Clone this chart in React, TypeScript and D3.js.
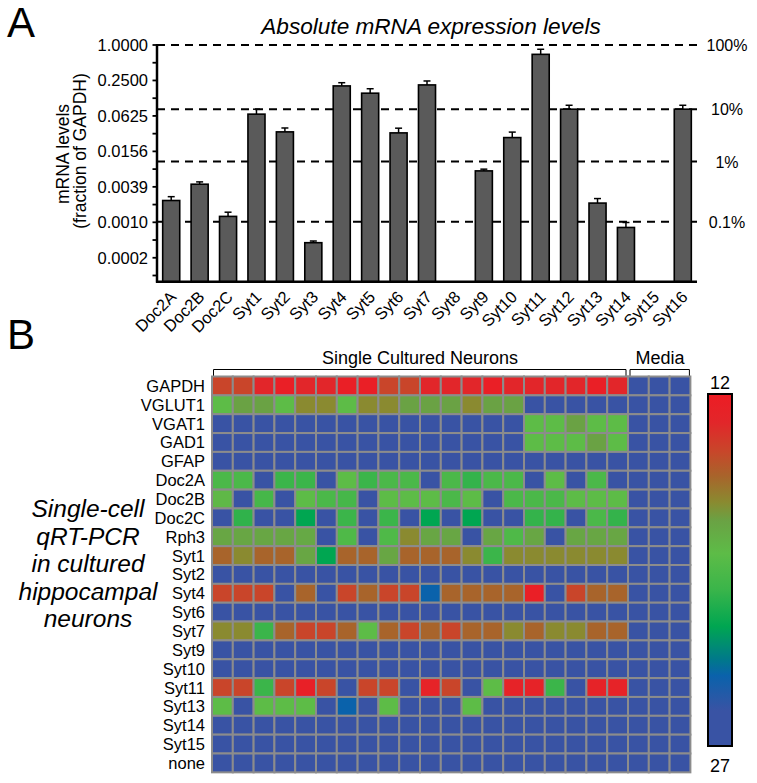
import React from 'react';
import * as d3 from 'd3';

// ---------- Panel A data ----------
const barGenes = ['Doc2A','Doc2B','Doc2C','Syt1','Syt2','Syt3','Syt4','Syt5','Syt6','Syt7','Syt8','Syt9','Syt10','Syt11','Syt12','Syt13','Syt14','Syt15','Syt16'];
const barMean = [0.00229,0.00433,0.00123,0.067,0.0335,0.00044,0.202,0.152,0.0322,0.21,0,0.00729,0.0268,0.694,0.0813,0.00207,0.000798,0,0.0813];
const barUpper = [0.00266,0.00474,0.00145,0.0813,0.039,0.00047,0.229,0.181,0.0387,0.245,0,0.0078,0.0332,0.846,0.0948,0.00247,0.00097,0,0.0948];
const majorTicks = [1, 0.25, 0.0625, 0.015625, 0.00390625, 0.0009765625, 0.000244140625];
const majorLabels = ['1.0000','0.2500','0.0625','0.0156','0.0039','0.0010','0.0002'];
const minorTicks = [0.5, 0.125, 0.03125, 0.0078125, 0.001953125, 0.00048828125, 0.0001220703125];
const refValues = [1, 0.0813, 0.0105, 0.001];
const refLabels = ['100%','10%','1%','0.1%'];

// ---------- Panel B data (Ct values) ----------
const heatGenes = ['GAPDH','VGLUT1','VGAT1','GAD1','GFAP','Doc2A','Doc2B','Doc2C','Rph3','Syt1','Syt2','Syt4','Syt6','Syt7','Syt9','Syt10','Syt11','Syt13','Syt14','Syt15','none'];
const neuronCt: number[][] = [
  [14.4,14.4,13.2,12.3,13.2,13.2,12.3,12.3,14.4,14.4,13.2,13.2,13.2,12.3,13.2,13.2,13.2,13.2,12.3,13.2],
  [18.8,17.4,17.4,18.8,16.6,16.6,18.8,16.6,16.6,17.4,17.4,17.4,16.6,17.4,17.4,27,27,27,27,27],
  [27,27,27,27,27,27,27,27,27,27,27,27,27,27,27,18.8,18.8,17.4,18.8,18.8],
  [27,27,27,27,27,27,27,27,27,27,27,27,27,27,27,18.8,18.8,18.8,17.4,18.8],
  [27,27,27,27,27,27,27,27,27,27,27,27,27,27,27,27,27,27,27,27],
  [19.6,19.6,27,20.3,20.3,27,18.8,20.3,19.6,19.6,27,19.6,20.5,19.6,19.6,27,18.8,27,19.6,27],
  [18.6,27,19.8,27,18.8,19.6,19.8,27,18.8,18.8,18.8,19.6,18.8,27,19.6,19.6,19.6,18.8,18.8,18.8],
  [27,20.6,27,27,21.9,27,20.3,27,20.3,27,21.9,27,21.9,27,27,20.5,20.5,27,19.6,20.5],
  [17.6,17.6,17.6,17.6,17.8,27,19.4,27,19.4,16.6,17.6,17.6,27,17.6,19.4,17.6,27,17.6,17.6,17.6],
  [15.5,16.6,15.5,15.5,17.6,21.9,15.5,15.5,17.6,15.5,15.5,15.5,16.6,20.3,16.6,16.6,16.6,16.6,16.6,16.6],
  [27,27,27,27,27,27,27,27,27,27,27,27,27,27,27,27,27,27,27,27],
  [14.4,14.4,14.4,27,15.5,27,14.4,15.5,14.4,14.4,24,15.5,15.5,15.5,15.5,12.3,27,14.4,15.5,15.5],
  [27,27,27,27,27,27,27,27,27,27,27,27,27,27,27,27,27,27,27,27],
  [16.6,16.6,20.3,15.5,14.4,14.4,15.5,18.8,15.5,14.4,15.5,14.4,15.5,15.5,16.6,15.5,16.6,16.6,15.5,15.5],
  [27,27,27,27,27,27,27,27,27,27,27,27,27,27,27,27,27,27,27,27],
  [27,27,27,27,27,27,27,27,27,27,27,27,27,27,27,27,27,27,27,27],
  [14.4,14.4,20.3,14.4,12.5,14.4,27,14.4,14.4,27,12.8,14.4,27,18.8,12.8,12.8,20.3,27,12.8,12.8],
  [18.8,27,18.8,18.8,18.8,27,24,27,18.8,27,27,27,18.8,27,27,27,27,27,27,27],
  [27,27,27,27,27,27,27,27,27,27,27,27,27,27,27,27,27,27,27,27],
  [27,27,27,27,27,27,27,27,27,27,27,27,27,27,27,27,27,27,27,27],
  [27,27,27,27,27,27,27,27,27,27,27,27,27,27,27,27,27,27,27,27],
];
const mediaCt: number[][] = [
  [27,27,27],[27,27,27],[27,27,27],[27,27,27],[27,27,27],[27,27,27],[27,27,27],
  [27,27,27],[27,27,27],[27,27,27],[27,27,27],[27,27,27],[27,27,27],[27,27,27],
  [27,27,27],[27,27,27],[27,27,27],[27,27,27],[27,27,27],[27,27,27],[27,27,27],
];
const ctStops = [12, 13.2, 14.4, 15.5, 16.6, 17.4, 18.8, 20.3, 21.9, 23.3, 24, 25.5, 27];
const colorStops = ['#ed1c24','#e2262a','#c9452a','#a8642b','#8a8a30','#6aa244','#5dbc47','#3bb54a','#00a651','#00798a','#0a62ab','#3953a4','#3953a4'];
const scaleLabels = ['12', '27'];
const leftText = ['Single-cell', 'qRT-PCR', 'in cultured', 'hippocampal', 'neurons'];

const FONT = 'Liberation Sans, Arial, Helvetica, sans-serif';

export default function App() {
  // Panel A scales
  const x = d3.scaleBand<string>().domain(barGenes).range([157, 697]).paddingInner(0.4).paddingOuter(0.2);
  const y = d3.scaleLog().base(2).domain([Math.pow(2, -13.35), 1]).range([281.7, 45]);
  const yBase = 281.7;

  // Panel B scales
  const nCols = 23;
  const colX = d3.scaleBand<number>().domain(d3.range(nCols)).range([212, 212 + nCols * 20.8]).padding(0);
  const rowY = d3.scaleBand<string>().domain(heatGenes).range([376.5, 376.5 + heatGenes.length * 18.85]).padding(0);
  const color = d3.scaleLinear<string>().domain(ctStops).range(colorStops).interpolate(d3.interpolateRgb).clamp(true);
  const barTop = 394, barBottom = 746;
  const cbY = d3.scaleLinear().domain([12, 27]).range([barTop, barBottom]);

  const gradStops = ctStops.map((c, i) => ({ off: (cbY(c) - barTop) / (barBottom - barTop), col: colorStops[i] }));

  const neuronEnd = colX(19)! + colX.bandwidth();
  const mediaStart = colX(20)!;
  const mediaEnd = colX(22)! + colX.bandwidth();

  return (
    <svg width={757} height={783} style={{ position: 'absolute', left: 0, top: 0, background: '#fff' }} fontFamily={FONT}>
      <defs>
        <linearGradient id="cb" x1="0" y1="0" x2="0" y2="1">
          {gradStops.map((s, i) => <stop key={i} offset={s.off} stopColor={s.col} />)}
        </linearGradient>
      </defs>
      {/* Panel letters */}
      <text x={7} y={37} fontSize={42}>A</text>
      <text x={7} y={349} fontSize={42}>B</text>

      {/* Title */}
      <text x={431} y={34} fontSize={22.6} fontStyle="italic" textAnchor="middle">Absolute mRNA expression levels</text>

      {/* Reference dashed lines */}
      {refValues.map((v, i) => (
        <g key={'ref' + i}>
          <line x1={157} x2={699} y1={y(v)} y2={y(v)} stroke="#000" strokeWidth={2} strokeDasharray="8,6" />
          <text x={727} y={y(v) + 6} fontSize={16} textAnchor="middle">{refLabels[i]}</text>
        </g>
      ))}

      {/* Bars */}
      {barGenes.map((g, i) => {
        const v = barMean[i];
        if (!v) return null;
        const bx = x(g)!;
        const bw = x.bandwidth();
        const cx = bx + bw / 2;
        const top = y(v);
        const up = y(barUpper[i]);
        return (
          <g key={g}>
            <line x1={cx} x2={cx} y1={top} y2={up} stroke="#000" strokeWidth={1.5} />
            <line x1={cx - 3.5} x2={cx + 3.5} y1={up} y2={up} stroke="#000" strokeWidth={1.5} />
            <rect x={bx} y={top} width={bw} height={yBase - top} fill="#5a5a5a" stroke="#000" strokeWidth={1.6} />
          </g>
        );
      })}

      {/* Y axis */}
      <line x1={157} x2={157} y1={44} y2={yBase + 1} stroke="#000" strokeWidth={2.5} />
      {majorTicks.concat(minorTicks).map((t, i) => (
        <line key={'t' + i} x1={152.5} x2={157} y1={y(t)} y2={y(t)} stroke="#000" strokeWidth={1.8} />
      ))}
      {majorTicks.map((t, i) => (
        <text key={'tl' + i} x={148} y={y(t) + 6} fontSize={16.5} textAnchor="end">{majorLabels[i]}</text>
      ))}
      <text transform="translate(69,154) rotate(-90)" fontSize={17.5} textAnchor="middle">mRNA levels</text>
      <text transform="translate(86,151) rotate(-90)" fontSize={17.5} textAnchor="middle">(fraction of GAPDH)</text>

      {/* X axis */}
      <line x1={156} x2={697} y1={yBase} y2={yBase} stroke="#000" strokeWidth={2.5} />
      {barGenes.map((g) => {
        const cx = x(g)! + x.bandwidth() / 2;
        return (
          <text key={'xl' + g} transform={`translate(${cx + 6},298) rotate(-45)`} fontSize={16.5} textAnchor="end">{g}</text>
        );
      })}

      {/* Panel B headers */}
      <text x={420} y={364} fontSize={18} textAnchor="middle">Single Cultured Neurons</text>
      <text x={660} y={364} fontSize={18} textAnchor="middle">Media</text>
      <path d={`M${colX(0)! + 1.5},376 V369.5 H${neuronEnd - 2} V376`} fill="none" stroke="#000" strokeWidth={1} />
      <path d={`M${mediaStart + 2},376 V369.5 H${mediaEnd - 1} V376`} fill="none" stroke="#000" strokeWidth={1} />

      {/* Heatmap */}
      {heatGenes.map((g, r) => {
        const rowVals = neuronCt[r].concat(mediaCt[r]);
        return (
          <g key={'row' + g}>
            {rowVals.map((v, c) => (
              <rect key={c} x={colX(c)!} y={rowY(g)!} width={colX.bandwidth()} height={rowY.bandwidth()}
                fill={color(v)} stroke="#8c8c8c" strokeWidth={2} />
            ))}
            <text x={205} y={rowY(g)! + rowY.bandwidth() / 2 + 6} fontSize={16.5} textAnchor="end">{g}</text>
          </g>
        );
      })}

      {/* Left italic label */}
      {leftText.map((t, i) => (
        <text key={'lt' + i} x={88} y={517 + i * 27.5} fontSize={24.5} fontStyle="italic" textAnchor="middle">{t}</text>
      ))}

      {/* Color bar */}
      <rect x={708} y={barTop} width={24} height={barBottom - barTop} fill="url(#cb)" stroke="#000" strokeWidth={2} />
      <text x={720} y={389} fontSize={18} textAnchor="middle">{scaleLabels[0]}</text>
      <text x={720} y={772} fontSize={18} textAnchor="middle">{scaleLabels[1]}</text>
    </svg>
  );
}
